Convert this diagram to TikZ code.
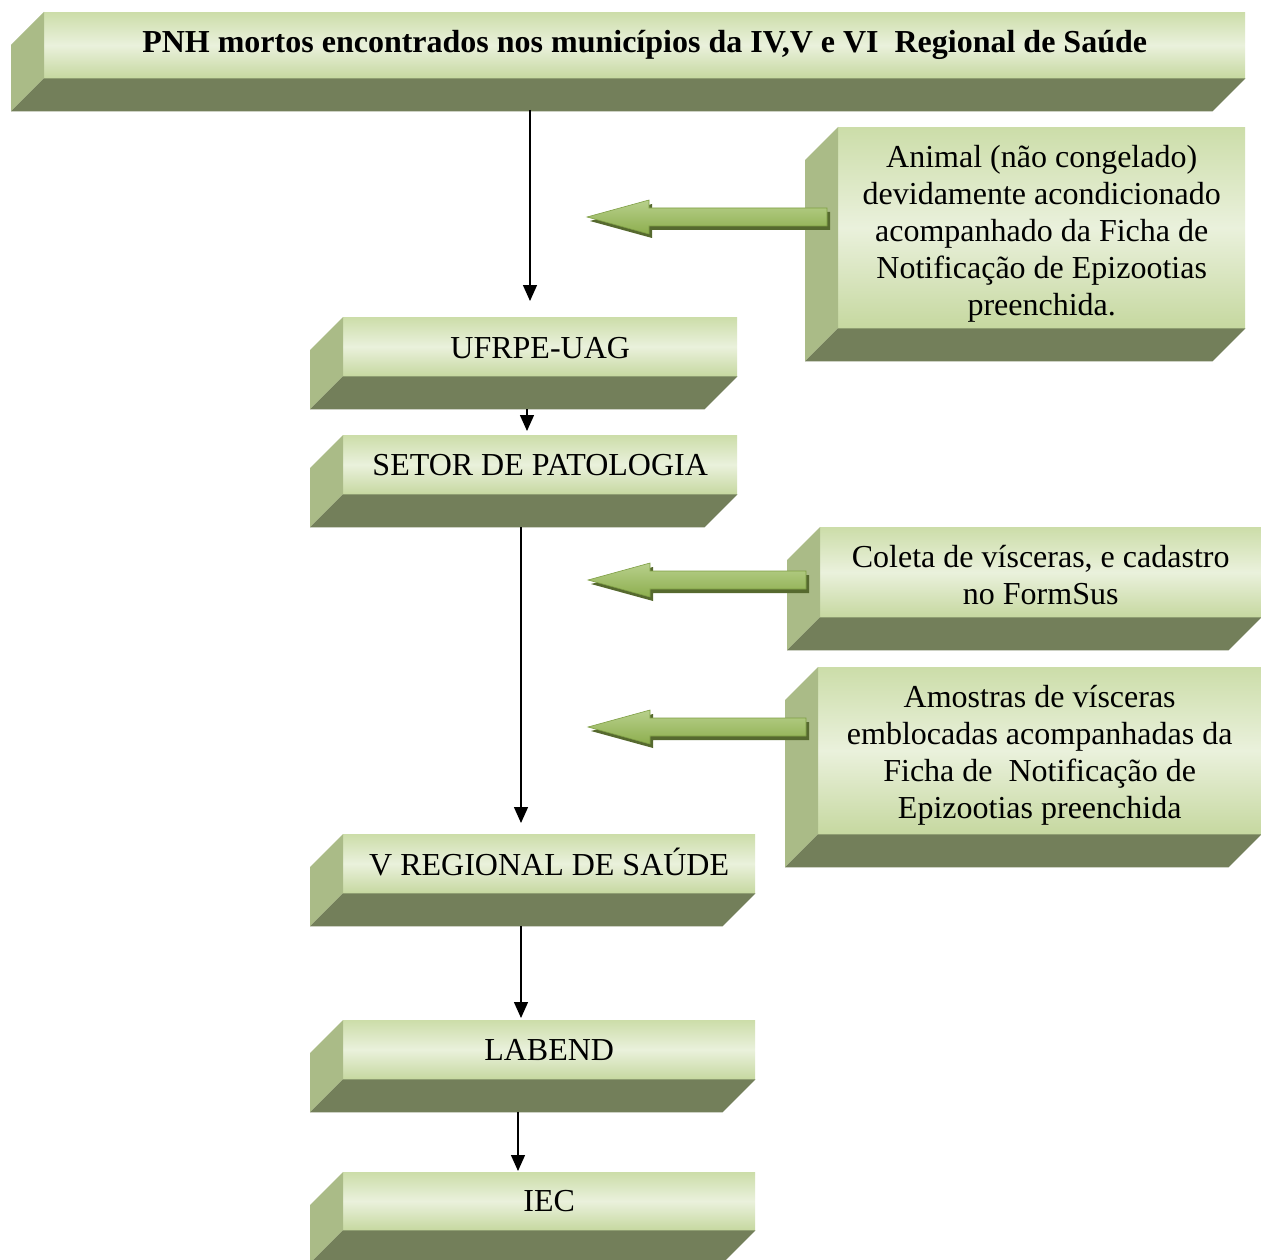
\documentclass[tikz,border=0pt]{standalone}
\usepackage{fontspec}
\setmainfont{Liberation Serif}
\usetikzlibrary{arrows.meta,calc}
\definecolor{frontT}{HTML}{CCDDA9}
\definecolor{frontM}{HTML}{EAF1DC}
\definecolor{frontB}{HTML}{C6D8A0}
\definecolor{sideC}{HTML}{AABB87}
\definecolor{bottomC}{HTML}{737F5A}
\definecolor{garT}{HTML}{B8D08C}
\definecolor{garB}{HTML}{8DAE4E}
\definecolor{garD}{HTML}{56692F}
\definecolor{garL}{HTML}{7E9E44}
\tikzset{
  front/.style={anchor=north west, inner sep=0pt,
    top color=frontT, bottom color=frontB, middle color=frontM},
  txt/.style={inner sep=0pt, align=center, font=\fontsize{32}{37}\selectfont},
  sideface/.style={fill=sideC},
  bottomface/.style={fill=bottomC},
  arr/.style={line width=1.4pt, -{Triangle[length=16pt,width=14pt]}},
  gbody/.style={top color=garT, bottom color=garB, draw=garL, line width=0.6pt},
  gshadow/.style={fill=garD},
}
% name, front-left x, top y, width, height, text, text y-offset
\newcommand\BevBox[7]{%
  \node[front, minimum width=#4pt, minimum height=#5pt] (#1) at (#2,#3) {};
  \fill[sideface] (#1.north west) -- ++(-33,33) -- ($(#1.south west)+(-33,33)$) -- (#1.south west) -- cycle;
  \fill[bottomface] (#1.south west) -- ($(#1.south west)+(-33,33)$) -- ($(#1.south east)+(-33,33)$) -- (#1.south east) -- cycle;
  \node[txt] (#1-text) at ($(#1.center)+(0,#7)$) {#6};
}
\newcommand\GArrow[3]{%
  \fill[gshadow] ({#1+3},{#2+4}) -- ({#1+65},{#2-13}) -- ({#1+65},{#2-5}) -- ({#3+3},{#2-5}) -- ({#3+3},{#2+13}) -- ({#1+65},{#2+13}) -- ({#1+65},{#2+21}) -- cycle;
  \path[gbody] (#1,#2) -- ({#1+62},{#2-17}) -- ({#1+62},{#2-9}) -- (#3,{#2-9}) -- (#3,{#2+9}) -- ({#1+62},{#2+9}) -- ({#1+62},{#2+17}) -- cycle;
}
\begin{document}
\begin{tikzpicture}[x=1pt,y=-1pt]
\useasboundingbox[fill=white] (0,0) rectangle (1261,1260);

\BevBox{title}{44}{12}{1201}{66}{\bfseries PNH mortos encontrados nos municípios da IV,V e VI\ \ Regional de Saúde}{0}
\BevBox{animal}{838}{127}{407}{201}{Animal (não congelado)\\devidamente acondicionado\\acompanhado da Ficha de\\Notificação de Epizootias\\preenchida.}{6}
\BevBox{ufrpe}{343}{317}{394}{59}{UFRPE-UAG}{1}
\BevBox{setor}{343}{435}{394}{59}{SETOR DE PATOLOGIA}{0}
\BevBox{coleta}{820}{527}{441}{90}{Coleta de vísceras, e cadastro\\no FormSus}{3}
\BevBox{amostras}{818}{667}{443}{167}{Amostras de vísceras\\emblocadas acompanhadas da\\Ficha de\ \ Notificação de\\Epizootias preenchida}{5}
\BevBox{vreg}{343}{834}{412}{59}{V REGIONAL DE SAÚDE}{-2}
\BevBox{labend}{343}{1020}{412}{59}{LABEND}{0}
\BevBox{iec}{343}{1172}{412}{58}{IEC}{0}

\coordinate (a1) at (530,110);  \coordinate (a2) at (530,301);
\coordinate (b1) at (527,409);  \coordinate (b2) at (527,431);
\coordinate (c1) at (521,527);  \coordinate (c2) at (521,823);
\coordinate (d1) at (521,926);  \coordinate (d2) at (521,1018);
\coordinate (e1) at (518,1112); \coordinate (e2) at (518,1171);
\draw[arr] (a1) -- (a2);
\draw[arr] (b1) -- (b2);
\draw[arr] (c1) -- (c2);
\draw[arr] (d1) -- (d2);
\draw[arr] (e1) -- (e2);

\GArrow{587}{217}{827}
\GArrow{588}{580}{806}
\GArrow{588}{727}{806}
\end{tikzpicture}
\end{document}
